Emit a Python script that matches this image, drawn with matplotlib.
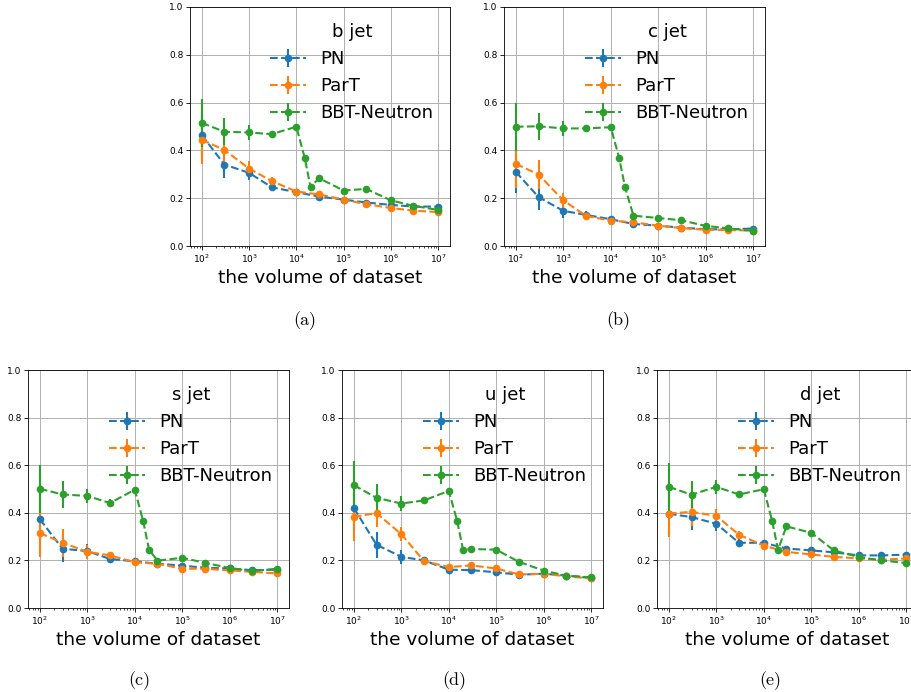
import numpy as np
import matplotlib
matplotlib.use('agg')
import matplotlib.pyplot as plt

# dataset sizes
x_base = [1e2, 3e2, 1e3, 3e3, 1e4, 3e4, 1e5, 3e5, 1e6, 3e6, 1e7]
x_bbt = [1e2, 3e2, 1e3, 3e3, 1e4, 1.5e4, 2e4, 3e4, 1e5, 3e5, 1e6, 3e6, 1e7]

jets = ['b jet', 'c jet', 's jet', 'u jet', 'd jet']
captions = ['(a)', '(b)', '(c)', '(d)', '(e)']

pn_b = [0.464, 0.341, 0.306, 0.246, 0.225, 0.207, 0.194, 0.182, 0.172, 0.165, 0.165]
part_b = [0.444, 0.402, 0.324, 0.272, 0.228, 0.216, 0.194, 0.175, 0.159, 0.148, 0.142]
bbt_b = [0.515, 0.478, 0.475, 0.468, 0.499, 0.369, 0.246, 0.284, 0.232, 0.239, 0.191, 0.168, 0.151]

pn_c = [0.310, 0.205, 0.147, 0.130, 0.112, 0.092, 0.085, 0.077, 0.070, 0.070, 0.073]
part_c = [0.344, 0.299, 0.191, 0.126, 0.106, 0.099, 0.085, 0.075, 0.068, 0.067, 0.064]
bbt_c = [0.499, 0.501, 0.492, 0.492, 0.497, 0.369, 0.246, 0.127, 0.117, 0.108, 0.084, 0.074, 0.063]

pn_s = [0.373, 0.249, 0.239, 0.206, 0.196, 0.186, 0.178, 0.169, 0.166, 0.159, 0.161]
part_s = [0.315, 0.274, 0.236, 0.221, 0.192, 0.186, 0.165, 0.165, 0.158, 0.152, 0.145]
bbt_s = [0.501, 0.477, 0.471, 0.441, 0.497, 0.366, 0.245, 0.199, 0.211, 0.190, 0.168, 0.155, 0.165]

pn_u = [0.420, 0.266, 0.215, 0.200, 0.161, 0.159, 0.150, 0.140, 0.144, 0.136, 0.126]
part_u = [0.383, 0.399, 0.310, 0.197, 0.172, 0.179, 0.166, 0.141, 0.144, 0.133, 0.124]
bbt_u = [0.516, 0.463, 0.439, 0.452, 0.492, 0.366, 0.245, 0.248, 0.245, 0.194, 0.157, 0.136, 0.129]

pn_d = [0.396, 0.382, 0.354, 0.274, 0.274, 0.250, 0.242, 0.234, 0.221, 0.221, 0.224]
part_d = [0.397, 0.404, 0.387, 0.308, 0.262, 0.236, 0.225, 0.215, 0.208, 0.203, 0.208]
bbt_d = [0.509, 0.476, 0.509, 0.477, 0.499, 0.366, 0.245, 0.343, 0.316, 0.242, 0.214, 0.200, 0.189]

# error bars (std over runs)
err_pn = [0.09, 0.055, 0.03, 0.015, 0.008, 0.006, 0.005, 0.005, 0.005, 0.005, 0.005]
err_part = [0.1, 0.06, 0.03, 0.015, 0.008, 0.006, 0.005, 0.005, 0.005, 0.005, 0.005]
err_bbt = [0.1, 0.056, 0.03, 0.015, 0.008, 0.008, 0.008, 0.006, 0.005, 0.005, 0.005, 0.005, 0.005]

pn_all = [pn_b, pn_c, pn_s, pn_u, pn_d]
part_all = [part_b, part_c, part_s, part_u, part_d]
bbt_all = [bbt_b, bbt_c, bbt_s, bbt_u, bbt_d]

fig = plt.figure(figsize=(9.12, 6.92), dpi=100)

# axes boxes in pixels: left, top, right, bottom
boxes = [(190, 7, 450, 246), (504, 7, 765, 246),
         (28, 370, 289, 608), (342, 370, 603, 608), (657, 370, 918, 608)]
cap_pos = [(305, 321), (618, 321), (139, 681), (454, 681), (770, 681)]

W, H = 912., 692.
for i in range(5):
    l, t, r, b = boxes[i]
    ax = fig.add_axes([l / W, 1 - b / H, (r - l) / W, (b - t) / H])
    ax.errorbar(x_base, pn_all[i], yerr=err_pn, fmt='o--', color='tab:blue',
                ms=4.5, lw=1.5, label='PN')
    ax.errorbar(x_base, part_all[i], yerr=err_part, fmt='o--', color='tab:orange',
                ms=4.5, lw=1.5, label='ParT')
    ax.errorbar(x_bbt, bbt_all[i], yerr=err_bbt, fmt='o--', color='tab:green',
                ms=4.5, lw=1.5, label='BBT-Neutron')
    ax.set_xscale('log')
    ax.set_ylim(0, 1.0)
    ax.grid(True, lw=0.7)
    ax.tick_params(labelsize=6.5, length=2.6, pad=2.2, width=0.6)
    ax.tick_params(which='minor', length=1.5, width=0.5)
    for sp in ax.spines.values():
        sp.set_linewidth(0.6)
    ax.set_xlabel('the volume of dataset', fontsize=13.3, labelpad=2.5)
    leg = ax.legend(title=jets[i], fontsize=13, title_fontsize=13, frameon=False,
                    loc='upper right')
    cx, cy = cap_pos[i]
    fig.text(cx / W, 1 - cy / H, captions[i], ha='center', va='center',
             fontsize=13, family='cmr10')

plt.savefig('out.png', dpi=100)
